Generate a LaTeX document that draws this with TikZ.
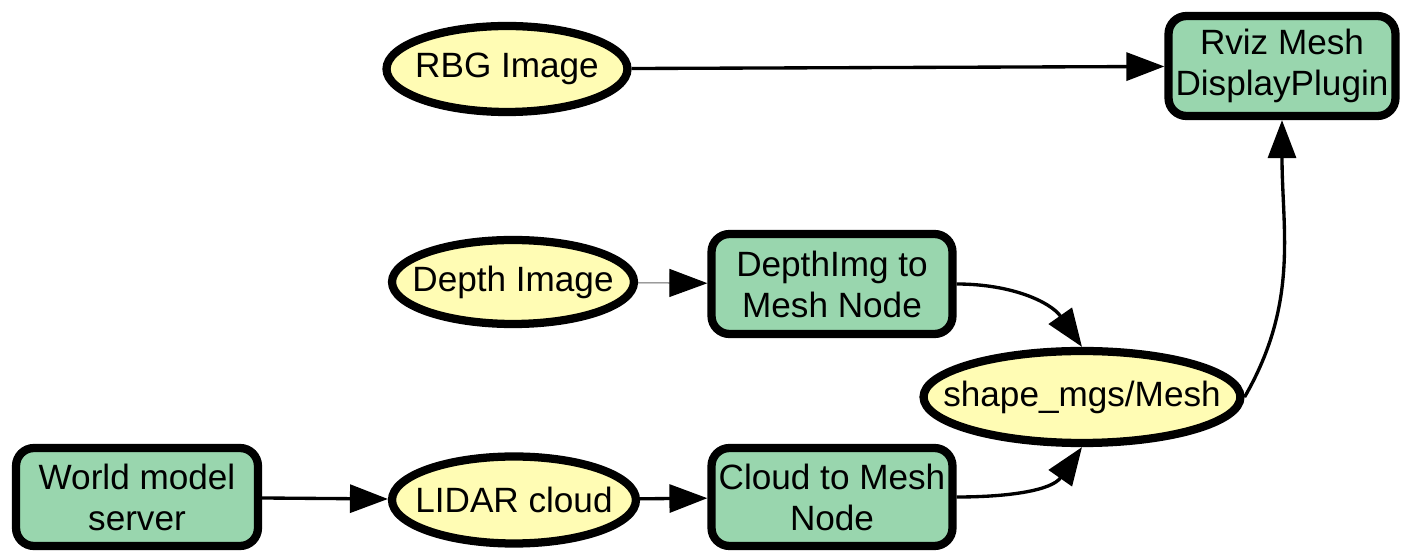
\documentclass[tikz,border=0pt]{standalone}
\usepackage{fontspec}
\setmainfont{Liberation Sans}
\usepackage{tikz}
\usetikzlibrary{shapes.geometric,arrows.meta}
\definecolor{msgyellow}{RGB}{255,252,180}
\definecolor{nodegreen}{RGB}{153,214,174}
\newcommand{\tname}[1]{\makebox[0pt]{#1}}

\begin{document}
\begin{tikzpicture}[x=0.02cm,y=-0.02cm,
  every node/.style={font=\fontsize{20}{23.3}\selectfont,align=center,inner sep=0pt},
  topic/.style={ellipse,draw=black,line width=4.7pt,fill=msgyellow},
  proc/.style={rectangle,rounded corners=0.36cm,draw=black,line width=4.7pt,fill=nodegreen},
  link/.style={line width=1.9pt,-{Triangle[length=0.76cm,width=0.56cm]}},
  thinlink/.style={draw=black!60,line width=0.6pt,-{Triangle[length=0.76cm,width=0.56cm,color=black]}}]
\useasboundingbox (0,0) rectangle (1404,553);
% messages
\node[topic,minimum width=4.82cm,minimum height=1.72cm] (rgb) at (507,69) {\tname{RBG Image}};
\node[topic,minimum width=4.84cm,minimum height=1.68cm] (depth) at (513,282) {\tname{Depth Image}};
\node[topic,minimum width=4.88cm,minimum height=1.74cm] (lidar) at (514,500) {\tname{LIDAR cloud}};
\node[topic,minimum width=6.34cm,minimum height=1.84cm] (mesh) at (1082,397) {\tname{shape\_mgs/Mesh}};
% processes
\node[proc,minimum width=4.54cm,minimum height=2.0cm] (rviz) at (1282,66) {Rviz Mesh\\DisplayPlugin};
\node[proc,minimum width=4.82cm,minimum height=2.0cm] (dimg) at (832,284) {DepthImg to\\Mesh Node};
\node[proc,minimum width=4.84cm,minimum height=1.96cm] (world) at (137,497) {World model\\server};
\node[proc,minimum width=4.82cm,minimum height=1.96cm] (cloud) at (832,497) {Cloud to Mesh\\Node};
% links
\draw[link] (rgb) -- (rviz);
\draw[thinlink] (depth) -- (dimg);
\draw[link] (world) -- (lidar);
\draw[link] (lidar) -- (cloud);
\draw[link] (dimg.east) to[out=0,in=125] (mesh.north);
\draw[link] (cloud.east) to[out=0,in=-125] (mesh.south);
\draw[link] (mesh.east) to[out=60,in=-90] (rviz.south);
\end{tikzpicture}
\end{document}
